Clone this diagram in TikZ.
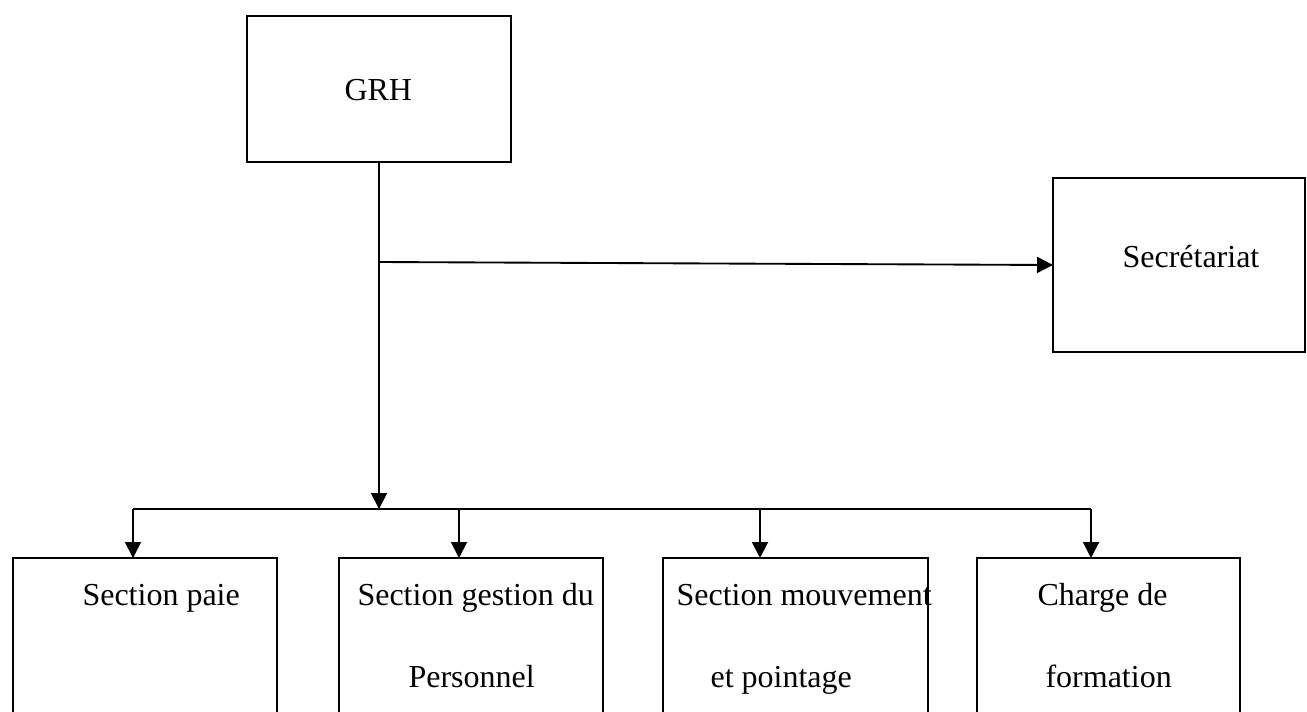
\documentclass[tikz,border=0pt]{standalone}
\usepackage{fontspec}
\setmainfont{Liberation Serif}
\usetikzlibrary{arrows.meta}
\tikzset{
  box/.style={draw, line width=0.7pt, inner sep=0pt, outer sep=0pt, anchor=north west},
  lbl/.style={inner sep=0pt, anchor=base west, font=\fontsize{12pt}{14pt}\selectfont},
  conn/.style={line width=0.7pt},
  arr/.style={conn, -{Triangle[width=6pt,length=6pt]}}
}
\begin{document}
\begin{tikzpicture}[x=0.375pt, y=-0.375pt]
\useasboundingbox (0,0) rectangle (1307,711);
\clip (0,0) rectangle (1307,711);
% boxes
\node[box, minimum width=99pt, minimum height=54.75pt] (grh) at (247,16) {};
\node[box, minimum width=94.5pt, minimum height=65.25pt] (sec) at (1053,178) {};
\node[box, minimum width=99pt, minimum height=83.25pt] (s1) at (13,558) {};
\node[box, minimum width=99pt, minimum height=83.25pt] (s2) at (339,558) {};
\node[box, minimum width=99.4pt, minimum height=83.25pt] (s3) at (663,558) {};
\node[box, minimum width=98.6pt, minimum height=83.25pt] (s4) at (977,558) {};
% texts
\node[lbl] (tgrh) at (344,100) {GRH};
\node[lbl] (tsec) at (1122,267) {Secrétariat};
\node[lbl] (t1a) at (82,605) {Section paie};
\node[lbl] (t2a) at (357,605) {Section gestion du};
\node[lbl] (t2b) at (408,687) {Personnel};
\node[lbl] (t3a) at (676,605) {Section mouvement};
\node[lbl] (t3b) at (710,687) {et pointage};
\node[lbl] (t4a) at (1037,605) {Charge de};
\node[lbl] (t4b) at (1045,687) {formation};
% connectors
\coordinate (j) at (379,262);
\coordinate (bar) at (379,509);
\coordinate (b1) at (133,509);
\coordinate (b2) at (459,509);
\coordinate (b3) at (760,509);
\coordinate (b4) at (1091,509);
\draw[arr] (grh.south) -- (bar);
\draw[arr] (j) -- (sec.west);
\draw[conn] (b1) -- (b4);
\draw[arr] (b1) -- (b1 |- s1.north);
\draw[arr] (b2) -- (b2 |- s2.north);
\draw[arr] (b3) -- (b3 |- s3.north);
\draw[arr] (b4) -- (b4 |- s4.north);
\end{tikzpicture}
\end{document}
